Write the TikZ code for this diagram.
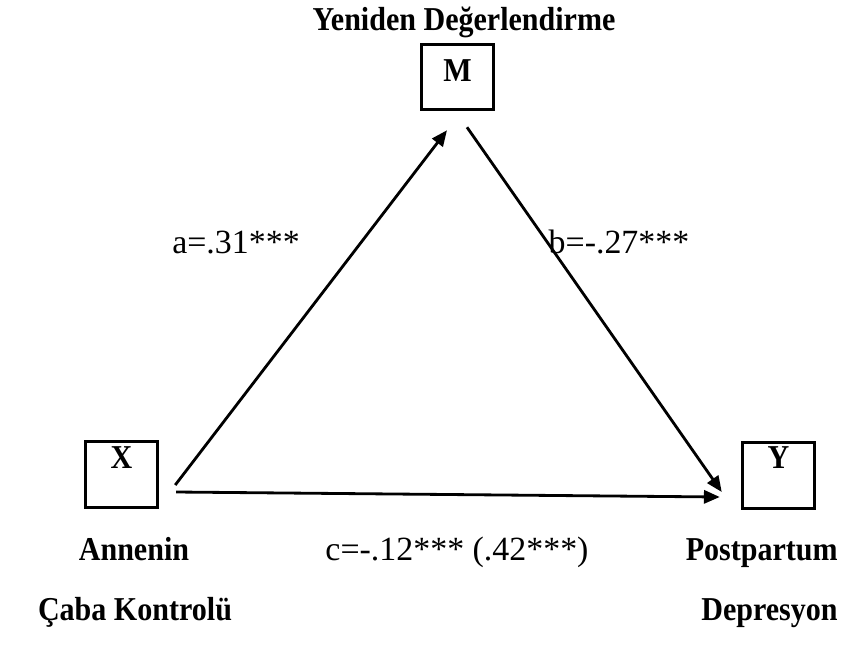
\documentclass[tikz,border=0pt]{standalone}
\usepackage{fontspec}
\setmainfont{Liberation Serif}[BoldFeatures={FakeStretch=0.9}]
\usepackage{tikz}
\usetikzlibrary{arrows.meta, positioning}

\begin{document}
\begin{tikzpicture}[x=0.02cm, y=-0.02cm,
    box/.style={draw, line width=1.7pt, minimum width=1.45cm, minimum height=1.31cm, inner sep=0pt},
    varlab/.style={font=\fontsize{19}{22}\selectfont\bfseries, inner sep=0pt, anchor=base},
    coef/.style={font=\fontsize{19.3}{22}\selectfont, inner sep=0pt, anchor=base},
    arr/.style={-{Triangle[length=9pt,width=7.5pt]}, line width=1.6pt}]
    \useasboundingbox (0,0) rectangle (860,647);

    % Mediator
    \node[varlab] (mtitle) at (464,30) {Yeniden Değerlendirme};
    \node[box] (m) at (457.5,77) {};
    \node[varlab] (mlab) at ([shift={(0,39)}]m.north) {M};

    % Predictor
    \node[box] (x) at (121.5,474.5) {};
    \node[varlab] (xlab) at ([shift={(0,28)}]x.north) {X};
    \node[varlab] (xname1) at (134,560) {Annenin};
    \node[varlab] (xname2) at (135,620) {Çaba Kontrolü};

    % Outcome
    \node[box] (y) at (778.5,475.5) {};
    \node[varlab] (ylab) at ([shift={(0,27)}]y.north) {Y};
    \node[varlab, anchor=base east] (yname1) at (838,560) {Postpartum};
    \node[varlab, anchor=base east] (yname2) at (838,620) {Depresyon};

    % Paths
    \draw[arr] ([shift={(16,10.5)}]x.east) -- ([shift={(-10.5,19)}]m.south);
    \draw[arr] ([shift={(9.5,16)}]m.south) -- ([shift={(-19,16.5)}]y.west);
    \draw[arr] ([shift={(17,17.5)}]x.east) -- ([shift={(-21,21.5)}]y.west);

    % Coefficients
    \node[coef] (apath) at (236,253) {a=.31***};
    \node[coef] (bpath) at (619,253) {b=-.27***};
    \node[coef] (cpath) at (457,560) {c=-.12*** (.42***)};
\end{tikzpicture}
\end{document}
